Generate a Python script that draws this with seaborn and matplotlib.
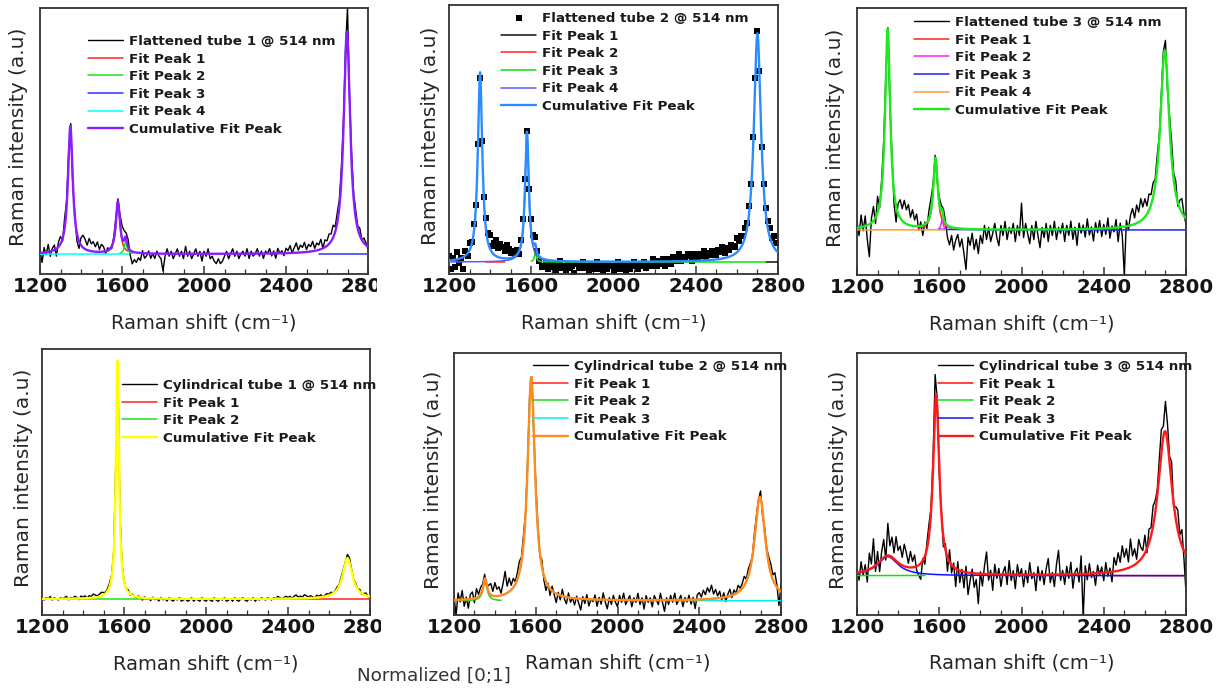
import numpy as np
import matplotlib
matplotlib.use("Agg")
import matplotlib.pyplot as plt
from matplotlib.ticker import MultipleLocator
from matplotlib.transforms import Bbox, TransformedBbox
import seaborn as sns

# measured spectra: 1200..2800 cm-1, one point every 10 cm-1
shift_start = 1200
shift_step = 10
tick_values = [1200, 1600, 2000, 2400, 2800]

# fit peaks are Lorentzians: (centre cm-1, half width cm-1, height), normalised [0;1]
# spans = range over which each fit peak curve is drawn
# resid = measured minus cumulative fit, in 1/100 of normalised intensity

flat1_name = "Flattened tube 1 @ 514 nm"
flat1_peaks = [(1580, 12, 0.21), (1618, 8, 0.05), (1348, 14, 0.52), (2697, 19, 0.905)]
flat1_spans = [(1530, 1630), (1590, 1650), (2560, 2800), (1200, 1630)]
flat1_resid = [
    1, -4, 2, -1, 3, -2, 1, 2, -3, 2,
    3, -1, 4, 2, 3, 2, -2, 1, -3, -3,
    3, 5, 4, 2, 5, 3, 4, 2, 4, 1,
    3, 2, -1, 1, 0, -1, 1, 2, 1, 3,
    5, 4, 2, 3, -2, -5, -3, -4, -2, -3,
    1, -2, -1, 1, -2, 0, -2, 1, -1, -2,
    -7, -1, 2, -1, 1, -2, 0, 2, -1, 1,
    -2, 3, -1, 1, -2, 0, 2, -1, 1, -3,
    1, -1, 2, -2, -1, -3, -4, -2, -4, -3,
    -1, 1, -2, 0, 2, -1, 1, -2, 0, 1,
    -1, 2, -2, 1, -1, 0, 2, -1, 1, -2,
    1, 0, 2, -1, 1, -2, 2, 0, 1, -1,
    2, 1, 3, 0, 2, 4, 1, 3, 2, 4,
    1, 3, 2, 4, 1, 3, 2, 4, 0, 3,
    2, 4, 3, 5, 2, 4, 3, 5, 3, 3,
    12, 2, 4, 2, 3, 1, 3, 0, 2, 1,
    -1]

flat2_name = "Flattened tube 2 @ 514 nm"
flat2_peaks = [(1351, 13, 0.82), (2700, 21, 0.99), (1620, 6, 0.04), (1579, 11, 0.56)]
flat2_spans = [(2740, 2800), (1380, 1470), (1600, 2740), (1200, 1750)]
flat2_resid = [
    2, -4, 1, -3, 3, -2, 0, -5, 2, -1,
    3, 1, 4, 2, 3, -2, -3, 2, 5, 4,
    6, 3, 5, 7, 4, 6, 5, 3, 6, 4,
    2, 3, 1, 2, -1, 2, 4, 2, 1, 3,
    6, 4, 3, 1, -2, -4, -3, -1, -4, -2,
    -3, -1, -4, -2, 0, -3, -2, -4, -1, -3,
    -2, -5, -1, -3, -2, 0, -3, -2, -4, -1,
    -3, -2, 0, -3, -1, -4, -2, -3, -1, -2,
    -4, -2, 0, -3, -1, -2, -4, -1, -3, -2,
    0, -2, -3, -1, -2, 0, -3, -1, -2, 1,
    -1, -2, 0, -1, 1, -2, 0, 1, -1, 2,
    0, 1, 3, 0, 2, 1, 3, 2, 0, 3,
    2, 1, 3, 2, 4, 1, 3, 2, 4, 3,
    2, 4, 3, 5, 2, 4, 3, 5, 4, 3,
    6, 4, 5, 3, 4, 2, 3, 1, 2, -1,
    1, 2, -2, 1, 2, 3, 4, 2, 5, 3,
    4]

flat3_name = "Flattened tube 3 @ 514 nm"
flat3_peaks = [(1582, 13, 0.35), (1614, 6, 0.05), (1349, 15, 0.99), (2697, 27, 0.885)]
flat3_spans = [(1500, 1660), (1595, 1640), (1600, 2800), (1200, 1630)]
flat3_resid = [
    3, -4, 6, -2, 5, -7, -16, 2, 7, -3,
    8, -2, 4, 6, 2, 1, -3, 4, -6, -8,
    5, 9, 6, 11, 7, 10, 4, 8, 3, 6,
    -2, 2, -5, 1, -3, 4, 6, 3, 2, -2,
    3, 2, 4, 1, -6, -9, -4, -11, -6, -3,
    -9, -5, -12, -20, -4, -8, -2, -10, -5, -12,
    -3, -7, 2, -5, 1, -6, -2, 3, -4, -8,
    2, -3, 4, -5, 1, -2, 3, -6, 2, -3,
    13, -4, 3, -2, -7, 2, -5, 4, -3, -9,
    1, -4, 3, -6, 2, -3, 4, -5, 1, -2,
    3, -6, 2, -3, 4, -5, 1, -8, 3, -2,
    2, -4, 5, -3, 1, -6, 3, -2, 4, -4,
    2, -3, 5, -5, 1, -2, 4, -7, 2, -4,
    -24, 3, -2, 5, 8, 3, 9, 5, 11, 6,
    9, 4, 8, 5, 7, 3, 6, 2, 4, 5,
    6, -3, 5, 8, 3, 6, -2, 4, 7, 1,
    -3]

cyl1_name = "Cylindrical tube 1 @ 514 nm"
cyl1_peaks = [(1568, 9, 1.0), (2690, 28, 0.172)]
cyl1_spans = [(2300, 2800), (1300, 1750)]
cyl1_resid = [
    0.5, -0.5, 0.5, 0, 1, -0.5, 0.5, 0, -0.5, 0.5,
    0, 0.5, 1, -0.5, 0.5, 0, 1, 0.5, -0.5, 1,
    0.5, 1, 0, 1, 0.5, 1.5, 1, 0.5, 1, 1.5,
    1, 0.5, 1, 1.5, 1, 0.5, 2, 4, 1, 0.5,
    0.5, 0, 1, -0.5, 0.5, 0, -0.5, 0.5, 0, -1,
    0.5, -0.5, 0, -1, 0.5, -0.5, 0, -1, 0.5, -0.5,
    0, -1, 0.5, -0.5, -1, 0, -0.5, 0.5, -1, -0.5,
    0, -1, -0.5, 0.5, -1, 0, -0.5, -1, 0.5, -0.5,
    -1, 0, -0.5, -1, 0.5, -0.5, -1, 0, -0.5, 0.5,
    -1, -0.5, 0, -1, 0.5, -0.5, -1, 0, 0.5, -0.5,
    -1, 0, -0.5, 0.5, -1, 0, -0.5, 0.5, 0, -0.5,
    0.5, 0, -0.5, 0.5, 0, 1, 0.5, 0, 0.5, 1,
    0.5, 1, 0, 1, 1.5, 0.5, 1, 0.5, 1.5, 1,
    0.5, 1, 0.5, 0, 1, 0.5, 1, 0, 0.5, 1,
    0.5, 1, 0, 0.5, 1, 0.5, 1.5, 1, 0.5, 1.5,
    2, 1, 0.5, 1, 0, 1, -0.5, 0.5, 1, 0,
    -0.5]

cyl2_name = "Cylindrical tube 2 @ 514 nm"
cyl2_peaks = [(2697, 32, 0.46), (1352, 12, 0.09), (1578, 22, 0.99)]
cyl2_spans = [(2400, 2800), (1200, 1430), (1440, 2800)]
cyl2_resid = [
    2, -7, 3, -1, 4, -3, 1, -4, 2, 3,
    -2, 4, 1, 3, 2, 2, -1, 3, 5, 2,
    6, 3, 4, 1, 5, 10, 3, 6, 2, 4,
    1, 3, 5, 2, 4, 1, 2, 3, 1, -2,
    3, 2, -1, 3, -2, -4, 1, -3, 2, -1,
    -4, 1, -2, 3, -1, -3, 2, -2, 0, -3,
    1, -2, -5, 1, -2, 2, -3, 0, -1, 2,
    -3, 1, -2, 3, -1, -4, 1, -2, 2, -1,
    -3, 2, -1, 3, -2, 0, 2, -3, 1, -1,
    3, -2, 1, -4, 2, -1, 1, -3, 2, 0,
    -2, 3, -1, -5, 1, -2, 2, -1, 3, -2,
    0, 2, -3, 1, -1, 2, -2, 1, -4, 2,
    3, 1, 4, 2, 5, 3, 6, 2, 4, 1,
    3, -1, 2, -2, 1, 3, -1, 2, 0, 3,
    1, 2, 4, 1, 3, 2, 0, 3, 2, 1,
    3, -2, 2, 1, 3, 4, 2, 5, 1, -7,
    3]

cyl3_name = "Cylindrical tube 3 @ 514 nm"
cyl3_peaks = [(1585, 18, 0.90), (2698, 42, 0.72), (1350, 60, 0.095)]
cyl3_spans = [(2450, 2800), (1200, 1530), (1200, 2800)]
cyl3_resid = [
    2, -4, 5, -2, 3, -6, 8, 2, 14, -3,
    6, -5, 4, 9, -2, 16, 5, 10, 3, 12,
    6, 9, 4, 11, 7, 2, 8, 3, 6, -2,
    -5, -8, 1, -4, 3, 6, 2, 5, 16, 4,
    -3, 2, -5, 3, -7, 6, -4, 2, -9, 4,
    -6, 1, -8, 3, -11, -4, 2, -7, -3, -15,
    1, -6, 4, 11, -3, 2, -8, 5, -2, 3,
    -6, 1, 4, -5, 7, -3, 2, -7, 5, -1,
    3, -6, 2, -4, 6, -2, 1, -8, 4, -3,
    2, -5, 3, 8, -4, 1, -6, 5, 12, -3,
    2, -5, 4, -2, 6, -7, 1, 3, -4, 9,
    -22, 4, -3, 5, -2, 1, -6, 4, -1, 3,
    -4, 5, -2, 2, -5, 7, 3, 9, 4, 12,
    6, 10, 3, 14, 5, 8, 2, 11, 6, 3,
    9, -2, 7, 4, 10, 6, 3, 8, 12, 5,
    15, 9, 3, 11, -2, 6, 10, 2, 8, -4,
    -19]

# ---- styling / layout (pixels of a 1222 x 688 canvas) ----
W, H = 1222, 688
panels = [
    dict(name=flat1_name, peaks=flat1_peaks, spans=flat1_spans, resid=flat1_resid,
         colors=["#ff2020", "#20e020", "#3030ff", "#00ffff"], cum="#8a1cff",
         box=(40, 8, 368, 274), ylim=(-0.081, 1.0), leg=(88, 35), ylab_x=-0.037, clip=377),
    dict(name=flat2_name, peaks=flat2_peaks, spans=flat2_spans, resid=flat2_resid,
         colors=["#111111", "#ff2020", "#10e010", "#5a5aff"], cum="#2a8cff",
         box=(449, 5, 778, 274), ylim=(-0.052, 1.113), leg=(501, 12), ylab_x=-0.027,
         squares=True),
    dict(name=flat3_name, peaks=flat3_peaks, spans=flat3_spans, resid=flat3_resid,
         colors=["#ff2020", "#ff20ff", "#2020ff", "#ff9a3c"], cum="#1ee81e",
         box=(857, 8, 1186, 275), ylim=(-0.222, 1.094), leg=(914, 16), ylab_x=-0.036),
    dict(name=cyl1_name, peaks=cyl1_peaks, spans=cyl1_spans, resid=cyl1_resid,
         colors=["#ff2020", "#20e020"], cum="#ffff00",
         box=(42, 349, 370, 615), ylim=(-0.067, 1.05), leg=(122, 379), ylab_x=-0.027, clip=381),
    dict(name=cyl2_name, peaks=cyl2_peaks, spans=cyl2_spans, resid=cyl2_resid,
         colors=["#ff2020", "#20d020", "#00f0f0"], cum="#ff8a1e",
         box=(454, 353, 781, 615), ylim=(-0.063, 1.097), leg=(533, 360), ylab_x=-0.034),
    dict(name=cyl3_name, peaks=cyl3_peaks, spans=cyl3_spans, resid=cyl3_resid,
         colors=["#ff1010", "#10e010", "#1010ff"], cum="#ff1a1a",
         box=(857, 353, 1186, 615), ylim=(-0.196, 1.11), leg=(938, 360), ylab_x=-0.027),
]


def lorentz(x, centre, hw, height):
    return height / (1.0 + ((x - centre) / hw) ** 2)


sns.set_style("white")
plt.rcParams["font.family"] = ["DejaVu Sans"]

fig = plt.figure(figsize=(W / 100, H / 100), dpi=100)

for p in panels:
    l, t, r, b = p["box"]
    ax = fig.add_axes([l / W, 1 - b / H, (r - l) / W, (b - t) / H])

    x = shift_start + shift_step * np.arange(len(p["resid"]))
    fine = np.arange(1200, 2801, 1.0)
    cum_fine = sum(lorentz(fine, *pk) for pk in p["peaks"])
    measured = sum(lorentz(x, *pk) for pk in p["peaks"]) + np.array(p["resid"]) / 100.0

    if p.get("squares"):
        sns.scatterplot(x=x, y=measured, marker="s", s=24, color="black",
                        linewidth=0, ax=ax, label=p["name"], zorder=2)
    else:
        sns.lineplot(x=x, y=measured, color="black", lw=1.0, ax=ax,
                     label=p["name"], errorbar=None, zorder=2)

    for k, (pk, (lo, hi), col) in enumerate(zip(p["peaks"], p["spans"], p["colors"])):
        xs = np.arange(lo, hi + 1, 1.0)
        sns.lineplot(x=xs, y=lorentz(xs, *pk), color=col, lw=1.1, ax=ax,
                     label=f"Fit Peak {k + 1}", errorbar=None, zorder=3)

    sns.lineplot(x=fine, y=cum_fine, color=p["cum"], lw=1.7, ax=ax,
                 label="Cumulative Fit Peak", errorbar=None, zorder=4)

    ax.set_xlim(1200, 2800)
    ax.set_ylim(*p["ylim"])
    ax.set_yticks([])
    ax.set_xticks(tick_values, labels=[str(v) for v in tick_values],
                  fontweight="bold", fontsize=14.2, color="#151515")
    ax.xaxis.set_minor_locator(MultipleLocator(100))
    ax.tick_params(axis="x", which="major", direction="in", length=6, width=1.1,
                   pad=2, top=False, bottom=True, color="#333333")
    ax.tick_params(axis="x", which="minor", direction="in", length=3.5, width=0.9,
                   top=False, bottom=True, color="#333333")
    ax.tick_params(axis="y", left=False, labelleft=False)
    for s in ax.spines.values():
        s.set_linewidth(1.3)
        s.set_color("#333333")

    ax.set_xlabel("Raman shift (cm\u207b\u00b9)", fontsize=14, color="#262626")
    ax.xaxis.set_label_coords(0.5, -0.147)
    ax.set_ylabel("Raman intensity (a.u)", fontsize=14.5, color="#262626")
    ax.yaxis.set_label_coords(p["ylab_x"], 0.515)

    if "clip" in p:
        clip = TransformedBbox(Bbox([[0, 0], [p["clip"] / W, 1]]), fig.transFigure)
        for tk in ax.xaxis.get_major_ticks():
            tk.label1.set_clip_box(clip)
            tk.label1.set_clip_on(True)

    handles, labels = ax.get_legend_handles_labels()
    lx, ly = p["leg"]
    ax.legend(handles, labels, loc="upper left", bbox_to_anchor=(lx / W, 1 - ly / H),
              bbox_transform=fig.transFigure, frameon=False, borderpad=0,
              borderaxespad=0, handlelength=2.6, handletextpad=0.45,
              labelspacing=0.34, prop={"weight": "bold", "size": 9.7})
    for txt in ax.get_legend().get_texts():
        txt.set_color("#1a1a1a")

fig.text(357 / W, 1 - 676 / H, "Normalized [0;1]", fontsize=13.2, color="#333333",
         ha="left", va="center")

fig.savefig("out.png", dpi=100)
